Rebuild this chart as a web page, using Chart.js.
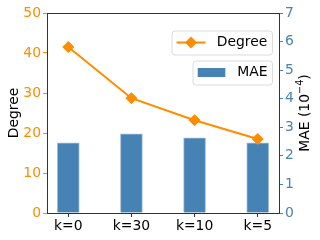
<!DOCTYPE html>
<html>
<head>
<meta charset="utf-8">
<script src="https://cdn.jsdelivr.net/npm/chart.js@4.4.0/dist/chart.umd.min.js"></script>
<style>
  html, body { margin: 0; padding: 0; background: #fff; }
  #wrap { width: 320px; height: 240px; }
</style>
</head>
<body>
<div id="wrap"><canvas id="chart" width="320" height="240"></canvas></div>
<script>
// Data
const categories = ['k=0', 'k=30', 'k=10', 'k=5'];
const degreeValues = [41.5, 28.7, 23.2, 18.5];
const maeValues = [2.46, 2.77, 2.63, 2.46];
const degreeTicks = [0, 10, 20, 30, 40, 50];
const maeTicks = [0, 1, 2, 3, 4, 5, 6, 7];

const ORANGE = '#ff8c00';
const BLUE = '#4682b4';
const SPINE = '#333333';
const FONT = 'DejaVu Sans';
const FS = 13.9;

// Top spine, axis titles and the two matplotlib-style legends
const extras = {
  id: 'extras',
  afterDraw(chart) {
    const ctx = chart.ctx;
    const a = chart.chartArea;
    ctx.save();

    // top spine
    ctx.strokeStyle = SPINE;
    ctx.lineWidth = 1;
    ctx.beginPath();
    ctx.moveTo(a.left, a.top + 0.5);
    ctx.lineTo(a.right, a.top + 0.5);
    ctx.stroke();

    // left title
    ctx.fillStyle = '#000';
    ctx.font = `${FS}px "${FONT}"`;
    ctx.textBaseline = 'middle';
    ctx.textAlign = 'center';
    ctx.save();
    ctx.translate(14, (a.top + a.bottom) / 2);
    ctx.rotate(-Math.PI / 2);
    ctx.fillText('Degree', 0, 0);
    ctx.restore();

    // right title with superscript
    ctx.save();
    ctx.translate(305, (a.top + a.bottom) / 2);
    ctx.rotate(-Math.PI / 2);
    ctx.textAlign = 'left';
    const main = 'MAE (10';
    const sup = '\u22124';
    const tail = ')';
    const supFont = `${FS * 0.7}px "${FONT}"`;
    const mainFont = `${FS}px "${FONT}"`;
    ctx.font = mainFont;
    const w1 = ctx.measureText(main).width;
    const w3 = ctx.measureText(tail).width;
    ctx.font = supFont;
    const w2 = ctx.measureText(sup).width;
    let x = -(w1 + w2 + w3) / 2;
    ctx.font = mainFont;
    ctx.fillText(main, x, 0);
    x += w1;
    ctx.font = supFont;
    ctx.fillText(sup, x, -5);
    x += w2;
    ctx.font = mainFont;
    ctx.fillText(tail, x, 0);
    ctx.restore();

    // legends
    const boxRight = a.right - 7;
    function box(left, top, h) {
      ctx.beginPath();
      if (ctx.roundRect) ctx.roundRect(left + 0.5, top + 0.5, boxRight - left, h, 3);
      else ctx.rect(left + 0.5, top + 0.5, boxRight - left, h);
      ctx.fillStyle = 'rgba(255,255,255,0.8)';
      ctx.fill();
      ctx.strokeStyle = '#dcdcdc';
      ctx.lineWidth = 1;
      ctx.stroke();
    }

    // Degree legend
    box(171.5, 30.5, 24);
    const ly = 42.5;
    ctx.strokeStyle = ORANGE;
    ctx.lineWidth = 2;
    ctx.beginPath();
    ctx.moveTo(176.5, ly);
    ctx.lineTo(205.5, ly);
    ctx.stroke();
    ctx.fillStyle = ORANGE;
    ctx.beginPath();
    ctx.moveTo(185, ly);
    ctx.lineTo(191, ly - 6);
    ctx.lineTo(197, ly);
    ctx.lineTo(191, ly + 6);
    ctx.closePath();
    ctx.fill();
    ctx.fillStyle = '#000';
    ctx.font = `${FS}px "${FONT}"`;
    ctx.textAlign = 'left';
    ctx.textBaseline = 'middle';
    ctx.fillText('Degree', 216.7, ly);

    // MAE legend
    box(192.5, 60.5, 24);
    const my = 72.5;
    ctx.fillStyle = BLUE;
    ctx.fillRect(197.7, my - 4.5, 27.6, 9);
    ctx.fillStyle = '#000';
    ctx.fillText('MAE', 237.3, my);

    ctx.restore();
  }
};

const ctx = document.getElementById('chart').getContext('2d');
new Chart(ctx, {
  data: {
    datasets: [
      {
        type: 'line',
        label: 'Degree',
        xAxisID: 'x',
        yAxisID: 'y',
        order: 0,
        data: degreeValues.map((v, i) => ({ x: i, y: v })),
        borderColor: ORANGE,
        borderWidth: 2,
        pointStyle: 'rectRot',
        pointRadius: 5.5,
        pointBorderWidth: 1,
        pointBackgroundColor: ORANGE,
        pointBorderColor: ORANGE,
        tension: 0
      },
      {
        type: 'bar',
        label: 'MAE',
        xAxisID: 'x',
        yAxisID: 'y1',
        order: 1,
        data: maeValues.map((v, i) => ({ x: i, y: v })),
        backgroundColor: BLUE,
        borderColor: '#9fbfdc',
        borderWidth: 1,
        barThickness: 22
      }
    ]
  },
  options: {
    responsive: false,
    devicePixelRatio: 1,
    animation: false,
    events: [],
    layout: { padding: { top: 13, left: 0, right: 0, bottom: 0 } },
    plugins: { legend: { display: false }, tooltip: { enabled: false } },
    scales: {
      x: {
        type: 'linear',
        position: 'bottom',
        offset: false,
        min: -0.337,
        max: 3.337,
        afterBuildTicks: s => { s.ticks = categories.map((_, i) => ({ value: i })); },
        afterFit: s => { s.height = 27; },
        ticks: {
          autoSkip: false,
          maxRotation: 0,
          padding: 1,
          color: '#000',
          font: { family: FONT, size: FS },
          callback: v => categories[v]
        },
        grid: { offset: false, drawOnChartArea: false, tickLength: 4, color: SPINE, tickColor: SPINE },
        border: { color: SPINE, width: 1 }
      },
      y: {
        position: 'left',
        min: 0,
        max: 50,
        afterBuildTicks: s => { s.ticks = degreeTicks.map(v => ({ value: v })); },
        afterFit: s => { s.width = 47; },
        ticks: { color: ORANGE, padding: 2, font: { family: FONT, size: FS } },
        grid: { drawOnChartArea: false, tickLength: 4, color: ORANGE, tickColor: ORANGE },
        border: { color: SPINE, width: 1 }
      },
      y1: {
        position: 'right',
        min: 0,
        max: 7,
        afterBuildTicks: s => { s.ticks = maeTicks.map(v => ({ value: v })); },
        afterFit: s => { s.width = 41; },
        ticks: { color: BLUE, padding: 2, font: { family: FONT, size: FS } },
        grid: { drawOnChartArea: false, tickLength: 4, color: BLUE, tickColor: BLUE },
        border: { color: SPINE, width: 1 }
      }
    }
  },
  plugins: [extras]
});
</script>
</body>
</html>
